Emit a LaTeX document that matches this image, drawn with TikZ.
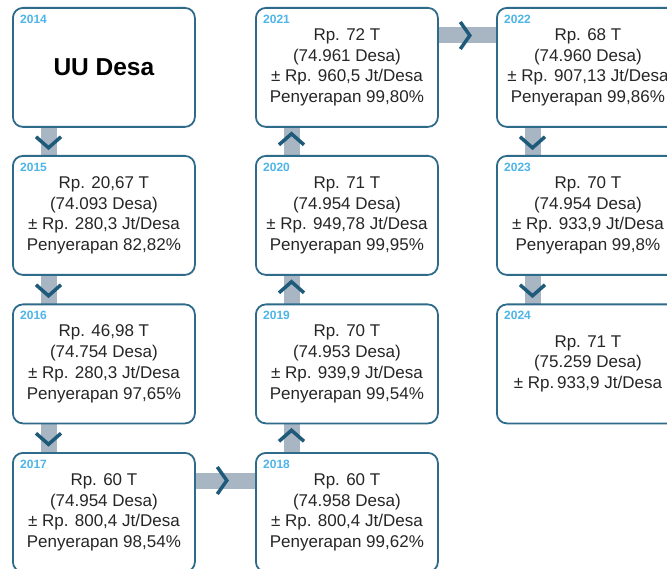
\documentclass[tikz,border=0pt]{standalone}
\usepackage{fontspec}
\setmainfont{Liberation Sans}
\usetikzlibrary{backgrounds,calc}
\pgfdeclarelayer{canvas}
\pgfsetlayers{canvas,background,main}
\definecolor{boxline}{HTML}{2E6A8A}
\definecolor{bargray}{HTML}{A8B5C3}
\definecolor{chev}{HTML}{1E5B7B}
\definecolor{yearblue}{HTML}{4DB5E8}
\definecolor{txt}{HTML}{262626}
\tikzset{
  yearbox/.style={draw=boxline, line width=1.8pt, rounded corners=10pt, fill=white,
    minimum width=182pt, minimum height=119pt, anchor=north west, inner sep=0pt,
    align=center, text=txt, font=\fontsize{17}{20.8}\selectfont},
  yearlabel/.style={anchor=north west, inner sep=0pt, text=yearblue,
    font=\fontsize{12}{12}\selectfont\bfseries},
  bar/.style={fill=bargray, draw=none},
  chevron/.style={draw=chev, line width=3.5pt, line cap=butt, line join=miter},
}
\begin{document}
\begin{tikzpicture}[x=1pt, y=-1pt]
\useasboundingbox (0,0) rectangle (667,569);
\clip (0,0) rectangle (667,569);
\begin{pgfonlayer}{canvas}
\fill[white] (0,0) rectangle (667,569);
\end{pgfonlayer}

% boxes
\node[yearbox] (b14) at (12,7) {\fontsize{24.5}{28}\selectfont\bfseries\color{black}UU Desa};
\node[yearbox] (b15) at (12,155) {Rp. 20,67 T\\(74.093 Desa)\\± Rp. 280,3 Jt/Desa\\Penyerapan 82,82\%};
\node[yearbox] (b16) at (12,303.5) {Rp. 46,98 T\\(74.754 Desa)\\± Rp. 280,3 Jt/Desa\\Penyerapan 97,65\%};
\node[yearbox] (b17) at (12,452) {Rp. 60 T\\(74.954 Desa)\\± Rp. 800,4 Jt/Desa\\Penyerapan 98,54\%};
\node[yearbox] (b18) at (255,452) {Rp. 60 T\\(74.958 Desa)\\± Rp. 800,4 Jt/Desa\\Penyerapan 99,62\%};
\node[yearbox] (b19) at (255,303.5) {Rp. 70 T\\(74.953 Desa)\\± Rp. 939,9 Jt/Desa\\Penyerapan 99,54\%};
\node[yearbox] (b20) at (255,155) {Rp. 71 T\\(74.954 Desa)\\± Rp. 949,78 Jt/Desa\\Penyerapan 99,95\%};
\node[yearbox] (b21) at (255,7) {Rp. 72 T\\(74.961 Desa)\\± Rp. 960,5 Jt/Desa\\Penyerapan 99,80\%};
\node[yearbox] (b22) at (496,7) {Rp. 68 T\\(74.960 Desa)\\± Rp. 907,13 Jt/Desa\\Penyerapan 99,86\%};
\node[yearbox] (b23) at (496,155) {Rp. 70 T\\(74.954 Desa)\\± Rp. 933,9 Jt/Desa\\Penyerapan 99,8\%};
\node[yearbox] (b24) at (496,303.5) {Rp. 71 T\\(75.259 Desa)\\± Rp.\,933,9 Jt/Desa};

% year labels
\foreach \b/\y in {b14/2014,b15/2015,b16/2016,b17/2017,b18/2018,b19/2019,b20/2020,b21/2021,b22/2022,b23/2023,b24/2024}
  \node[yearlabel] (l\y) at ($(\b.north west)+(8,7.5)$) {\y};

% bars (behind boxes)
\begin{scope}[on background layer]
\foreach \a/\b in {b14/b15,b15/b16,b16/b17,b22/b23,b23/b24}
  \fill[bar] ($(\a.south west)+(28.5,-2)$) rectangle ($(\b.north west)+(44.5,2)$);
\foreach \a/\b in {b19/b18,b20/b19,b21/b20}
  \fill[bar] ($(\a.south west)+(28.5,-2)$) rectangle ($(\b.north west)+(44.5,2)$);
\foreach \a/\b in {b17/b18,b21/b22}
  \fill[bar] ($(\a.north east)+(-2,20.5)$) rectangle ($(\b.north west)+(2,36.5)$);
\end{scope}

% down chevrons
\foreach \a in {b14,b15,b16,b22,b23}
  \draw[chevron] ($(\a.south west)+(24,9)$) -- ($(\a.south west)+(36.5,20)$) -- ($(\a.south west)+(49,9)$);
% up chevrons
\foreach \a in {b19,b20,b21}
  \draw[chevron] ($(\a.south west)+(24,17)$) -- ($(\a.south west)+(36.5,6)$) -- ($(\a.south west)+(49,17)$);
% right chevrons
\foreach \a in {b17,b21}
  \draw[chevron] ($(\a.north east)+(21.5,15)$) -- ($(\a.north east)+(31,28.5)$) -- ($(\a.north east)+(21.5,42)$);
\end{tikzpicture}
\end{document}
